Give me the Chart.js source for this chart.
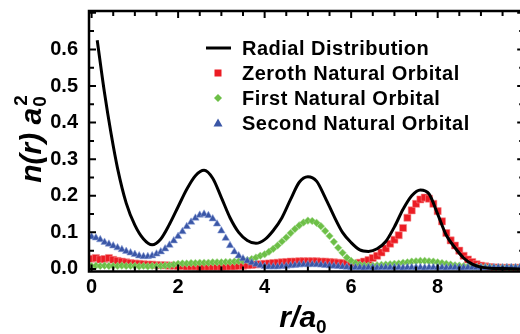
<!DOCTYPE html>
<html>
<head>
<meta charset="utf-8">
<script src="https://cdn.jsdelivr.net/npm/chart.js@4.4.1/dist/chart.umd.min.js"></script>
<style>
  html, body { margin: 0; padding: 0; background: #fff; overflow: hidden; }
  #wrap { width: 530px; height: 334px; }
</style>
</head>
<body>
<div id="wrap"><canvas id="orbitalChart"></canvas></div>
<script>
// radius grid (r / a0) for the three natural orbitals
const radius = [
  0.0, 0.1, 0.2, 0.3, 0.4, 0.5, 0.6, 0.7, 0.8, 0.9,
  1.0, 1.1, 1.2, 1.3, 1.4, 1.5, 1.6, 1.7, 1.8, 1.9,
  2.0, 2.1, 2.2, 2.3, 2.4, 2.5, 2.6, 2.7, 2.8, 2.9,
  3.0, 3.1, 3.2, 3.3, 3.4, 3.5, 3.6, 3.7, 3.8, 3.9,
  4.0, 4.1, 4.2, 4.3, 4.4, 4.5, 4.6, 4.7, 4.8, 4.9,
  5.0, 5.1, 5.2, 5.3, 5.4, 5.5, 5.6, 5.7, 5.8, 5.9,
  6.0, 6.1, 6.2, 6.3, 6.4, 6.5, 6.6, 6.7, 6.8, 6.9,
  7.0, 7.1, 7.2, 7.3, 7.4, 7.5, 7.6, 7.7, 7.8, 7.9,
  8.0, 8.1, 8.2, 8.3, 8.4, 8.5, 8.6, 8.7, 8.8, 8.9,
  9.0, 9.1, 9.2, 9.3, 9.4, 9.5, 9.6, 9.7, 9.8, 9.9
];

const zeroth = [
  0.028, 0.030, 0.026, 0.027, 0.030, 0.025, 0.022, 0.020, 0.018, 0.016,
  0.015, 0.014, 0.013, 0.012, 0.012, 0.011, 0.010, 0.010, 0.009, 0.009,
  0.008, 0.008, 0.007, 0.007, 0.007, 0.006, 0.006, 0.006, 0.006, 0.006,
  0.006, 0.006, 0.007, 0.007, 0.008, 0.009, 0.010, 0.011, 0.012, 0.013,
  0.014, 0.015, 0.016, 0.017, 0.018, 0.019, 0.020, 0.020, 0.021, 0.021,
  0.021, 0.021, 0.021, 0.020, 0.020, 0.019, 0.018, 0.017, 0.016, 0.015,
  0.014, 0.015, 0.017, 0.020, 0.024, 0.030, 0.036, 0.045, 0.056, 0.069,
  0.080, 0.092, 0.112, 0.140, 0.160, 0.178, 0.190, 0.195, 0.192, 0.178,
  0.158, 0.130, 0.098, 0.078, 0.064, 0.050, 0.036, 0.026, 0.019, 0.013,
  0.009, 0.007, 0.005, 0.004, 0.004, 0.003, 0.003, 0.003, 0.003, 0.003
];

const first = [
  0.008, 0.009, 0.008, 0.009, 0.008, 0.008, 0.008, 0.009, 0.008, 0.008,
  0.008, 0.007, 0.008, 0.007, 0.008, 0.008, 0.008, 0.009, 0.010, 0.012,
  0.014, 0.015, 0.015, 0.016, 0.016, 0.017, 0.017, 0.017, 0.018, 0.018,
  0.018, 0.019, 0.019, 0.020, 0.021, 0.022, 0.024, 0.027, 0.031, 0.036,
  0.040, 0.047, 0.055, 0.064, 0.075, 0.086, 0.098, 0.109, 0.119, 0.127,
  0.132, 0.131, 0.126, 0.117, 0.104, 0.090, 0.074, 0.058, 0.044, 0.031,
  0.022, 0.016, 0.012, 0.010, 0.009, 0.009, 0.010, 0.011, 0.012, 0.013,
  0.014, 0.015, 0.017, 0.018, 0.020, 0.021, 0.022, 0.022, 0.021, 0.020,
  0.018, 0.016, 0.014, 0.012, 0.010, 0.009, 0.008, 0.007, 0.006, 0.006,
  0.005, 0.005, 0.005, 0.004, 0.004, 0.004, 0.004, 0.004, 0.004, 0.004
];

const second = [
  0.088, 0.085, 0.080, 0.073, 0.068, 0.063, 0.058, 0.053, 0.048, 0.044,
  0.040, 0.036, 0.034, 0.034, 0.036, 0.041, 0.047, 0.055, 0.065, 0.077,
  0.089, 0.102, 0.116, 0.128, 0.139, 0.147, 0.150, 0.146, 0.137, 0.123,
  0.104, 0.084, 0.064, 0.047, 0.036, 0.028, 0.022, 0.017, 0.013, 0.010,
  0.007, 0.006, 0.006, 0.006, 0.007, 0.008, 0.009, 0.010, 0.011, 0.012,
  0.012, 0.012, 0.012, 0.011, 0.010, 0.009, 0.008, 0.007, 0.006, 0.005,
  0.004, 0.004, 0.004, 0.003, 0.004, 0.004, 0.003, 0.004, 0.004, 0.004,
  0.004, 0.004, 0.003, 0.004, 0.004, 0.004, 0.004, 0.003, 0.004, 0.004,
  0.004, 0.004, 0.003, 0.004, 0.004, 0.004, 0.003, 0.004, 0.004, 0.004,
  0.004, 0.003, 0.004, 0.004, 0.004, 0.003, 0.004, 0.004, 0.004, 0.004
];

// radial distribution (solid black curve)
const radialR = [0.13, 0.3, 0.45, 0.6, 0.8, 1.0, 1.2, 1.4, 1.6, 1.8,
  2.0, 2.2, 2.4, 2.6, 2.8, 3.0, 3.2, 3.4, 3.6, 3.8,
  4.0, 4.2, 4.4, 4.6, 4.8, 5.0, 5.2, 5.4, 5.6, 5.8,
  6.0, 6.2, 6.4, 6.6, 6.8, 7.0, 7.2, 7.4, 7.6, 7.8,
  8.0, 8.2, 8.4, 8.6, 8.8, 9.0, 9.2, 9.5, 9.9];
const radialN = [0.625, 0.48, 0.37, 0.275, 0.18, 0.12, 0.082, 0.066, 0.082, 0.122,
  0.17, 0.218, 0.255, 0.27, 0.248, 0.195, 0.14, 0.1, 0.078, 0.07,
  0.08, 0.105, 0.14, 0.19, 0.237, 0.252, 0.24, 0.195, 0.145, 0.1,
  0.072, 0.052, 0.048, 0.055, 0.075, 0.115, 0.163, 0.2, 0.216, 0.205,
  0.15, 0.092, 0.058, 0.03, 0.013, 0.005, 0.002, 0.001, 0.0];

const xTicks = [0, 2, 4, 6, 8];
const yTicks = [0.0, 0.1, 0.2, 0.3, 0.4, 0.5, 0.6];

const legendItems = ['Radial Distribution', 'Zeroth Natural Orbital', 'First Natural Orbital', 'Second Natural Orbital'];

const RED = '#ec1c24', GREEN = '#6dbf47', BLUE = '#3a56a6';

function pts(ys) { return radius.map((r, i) => ({ x: r, y: ys[i] })); }

const framePlugin = {
  id: 'frame',
  afterDraw(chart) {
    const ctx = chart.ctx, a = chart.chartArea;
    const xs = chart.scales.x, ys = chart.scales.y;
    ctx.save();
    ctx.strokeStyle = '#000';
    ctx.lineWidth = 2.5;
    ctx.strokeRect(a.left, a.top, a.right - a.left, a.bottom - a.top);
    ctx.lineWidth = 2;
    ctx.beginPath();
    for (let v = 0; v <= 10.001; v += 0.5) {
      const px = xs.getPixelForValue(v);
      const len = Math.abs(v % 2) < 0.01 ? 7 : 5;
      ctx.moveTo(px, a.bottom); ctx.lineTo(px, a.bottom - len);
      ctx.moveTo(px, a.top); ctx.lineTo(px, a.top + len);
    }
    for (let v = 0; v <= 0.701; v += 0.05) {
      const py = ys.getPixelForValue(v);
      const len = Math.round(v * 100) % 10 === 0 ? 7 : 5;
      ctx.moveTo(a.left, py); ctx.lineTo(a.left + len, py);
      ctx.moveTo(a.right, py); ctx.lineTo(a.right - len, py);
    }
    ctx.stroke();

    // legend
    const lx = 218, rows = [48, 73, 98, 123];
    ctx.lineWidth = 3;
    ctx.beginPath(); ctx.moveTo(206, rows[0]); ctx.lineTo(231, rows[0]); ctx.stroke();
    ctx.fillStyle = RED; ctx.fillRect(lx - 3.5, rows[1] - 3.5, 7, 7);
    ctx.fillStyle = GREEN;
    ctx.beginPath(); ctx.moveTo(lx, rows[2] - 4); ctx.lineTo(lx + 4, rows[2]);
    ctx.lineTo(lx, rows[2] + 4); ctx.lineTo(lx - 4, rows[2]); ctx.closePath(); ctx.fill();
    ctx.fillStyle = BLUE;
    ctx.beginPath(); ctx.moveTo(lx, rows[3] - 4.5); ctx.lineTo(lx + 4.5, rows[3] + 3.5);
    ctx.lineTo(lx - 4.5, rows[3] + 3.5); ctx.closePath(); ctx.fill();
    ctx.fillStyle = '#000';
    ctx.font = 'bold 20px "Liberation Sans", Arial, sans-serif';
    ctx.letterSpacing = '0.5px';
    ctx.textBaseline = 'middle';
    ctx.textAlign = 'left';
    legendItems.forEach((t, i) => ctx.fillText(t, 242, rows[i] + 1));
    ctx.letterSpacing = '0px';

    // x title: r/a0
    const big = 'italic bold 30px "Liberation Sans", Arial, sans-serif';
    const small = 'bold 19px "Liberation Sans", Arial, sans-serif';
    ctx.textBaseline = 'alphabetic';
    ctx.font = big;
    const w1 = ctx.measureText('r/a').width;
    ctx.font = small;
    const w2 = ctx.measureText('0').width;
    let x0 = 303 - (w1 + w2) / 2;
    ctx.font = big; ctx.fillText('r/a', x0, 327);
    ctx.font = small; ctx.fillText('0', x0 + w1, 333);

    // y title: n(r) a0^2
    ctx.translate(41, 140);
    ctx.rotate(-Math.PI / 2);
    ctx.font = big;
    const t1 = ctx.measureText('n(r) a').width;
    ctx.font = small;
    const t2 = ctx.measureText('0').width;
    x0 = -(t1 + t2) / 2;
    ctx.font = big; ctx.fillText('n(r) a', x0, 0);
    ctx.font = small;
    ctx.fillText('0', x0 + t1 + 1, 5);
    ctx.fillText('2', x0 + t1 + 2, -14);
    ctx.restore();
  }
};

const ctx = document.getElementById('orbitalChart').getContext('2d');
const chart = new Chart(ctx, {
  type: 'scatter',
  data: {
    datasets: [{
      label: legendItems[0],
      type: 'line',
      data: radialR.map((r, i) => ({ x: r, y: radialN[i] })),
      borderColor: '#000',
      borderWidth: 3,
      pointRadius: 0,
      cubicInterpolationMode: 'monotone',
      fill: false,
      order: 0
    }, {
      label: legendItems[3],
      data: pts(second),
      pointStyle: 'triangle',
      pointRadius: 4.3,
      backgroundColor: BLUE,
      borderColor: 'rgba(140,160,215,0.7)',
      borderWidth: 0.8,
      order: 1
    }, {
      label: legendItems[2],
      data: pts(first),
      pointStyle: 'rectRot',
      pointRadius: 3.8,
      backgroundColor: GREEN,
      borderColor: 'rgba(170,220,150,0.7)',
      borderWidth: 0.8,
      order: 2
    }, {
      label: legendItems[1],
      data: pts(zeroth),
      pointStyle: 'rect',
      pointRadius: 5,
      backgroundColor: RED,
      borderColor: 'rgba(245,140,140,0.7)',
      borderWidth: 0.8,
      order: 3
    }]
  },
  options: {
    responsive: true,
    maintainAspectRatio: false,
    animation: false,
    layout: { padding: { top: 11, right: 5, left: 0, bottom: 0 } },
    plugins: { legend: { display: false }, tooltip: { enabled: false } },
    scales: {
      x: {
        type: 'linear',
        min: -0.06,
        max: 10,
        grid: { display: false, drawTicks: false, tickLength: 0 },
        border: { display: false },
        afterFit: s => { s.height = 62.5; s.paddingLeft = 0; s.paddingRight = 0; },
        afterBuildTicks: s => { s.ticks = xTicks.map(v => ({ value: v })); },
        ticks: {
          color: '#000',
          padding: 4,
          maxRotation: 0,
          font: { family: '"Liberation Sans", Arial, sans-serif', size: 20, weight: 'bold' },
          callback: v => String(v)
        }
      },
      y: {
        type: 'linear',
        min: -0.007,
        max: 0.705,
        grid: { display: false, drawTicks: false, tickLength: 0 },
        border: { display: false },
        afterFit: s => { s.width = 89; s.paddingTop = 0; s.paddingBottom = 0; },
        afterBuildTicks: s => { s.ticks = yTicks.map(v => ({ value: v })); },
        ticks: {
          color: '#000',
          padding: 11,
          font: { family: '"Liberation Sans", Arial, sans-serif', size: 20, weight: 'bold' },
          callback: v => v.toFixed(1)
        }
      }
    }
  },
  plugins: [framePlugin]
});
</script>
</body>
</html>
